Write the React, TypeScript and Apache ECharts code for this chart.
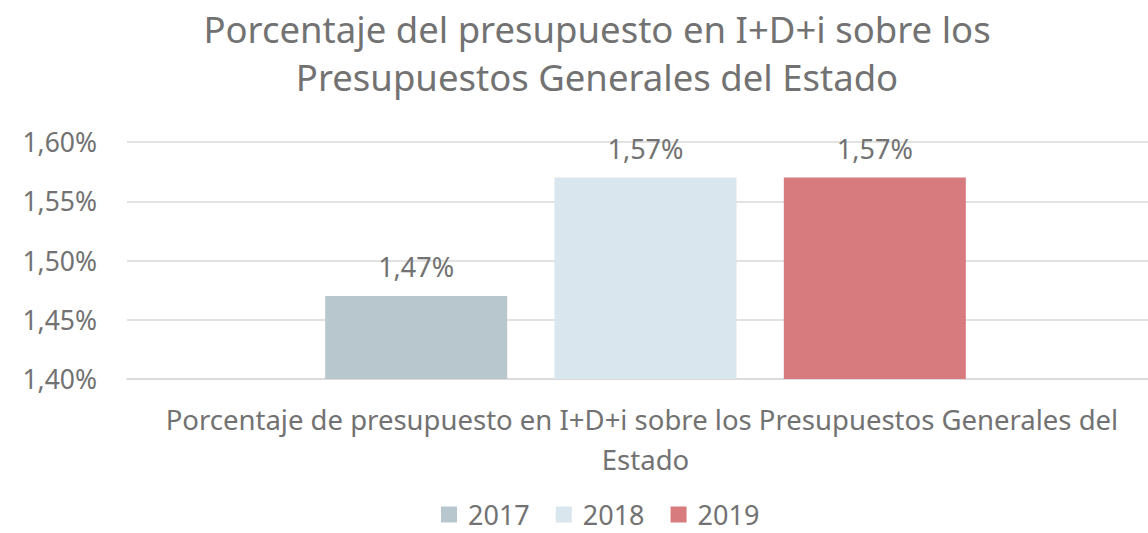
import React, { useEffect, useRef } from "react";
import * as echarts from "echarts";

const categories = ["Porcentaje de presupuesto en I+D+i sobre los Presupuestos Generales del Estado"];
const seriesNames = ["2017", "2018", "2019"];
const values2017 = [1.47];
const values2018 = [1.57];
const values2019 = [1.57];
const colors = ["#B7C7CD", "#D9E6EE", "#D87B7E"];
const yMin = 1.4;
const yMax = 1.6;
const yInterval = 0.05;

const fmt = (v: number) => v.toFixed(2).replace(".", ",") + "%";
const FONT = "'Noto Sans', sans-serif";
const TXT = "#727272";

export default function App() {
  const ref = useRef<HTMLDivElement>(null);
  useEffect(() => {
    document.body.style.margin = "0";
    const chart = echarts.init(ref.current!, null, { renderer: "svg" });
    const allValues = [values2017, values2018, values2019];
    chart.setOption({
      animation: false,
      textStyle: { fontFamily: FONT },
      title: {
        text: "Porcentaje del presupuesto en I+D+i sobre los\nPresupuestos Generales del Estado",
        left: 597,
        top: 5,
        padding: 0,
        textAlign: "center",
        textStyle: { fontFamily: FONT, fontSize: 36.5, fontWeight: "normal", color: TXT, lineHeight: 48 },
      },
      grid: { left: 127, width: 1037, top: 142, bottom: 154, containLabel: false, outerBoundsMode: "none" },
      legend: {
        bottom: 0,
        left: 436,
        itemWidth: 16,
        itemHeight: 16,
        itemGap: 26,
        icon: "rect",
        textStyle: { fontFamily: FONT, fontSize: 27, color: TXT, padding: [0, 0, 0, 6] },
        data: seriesNames,
      },
      xAxis: {
        type: "category",
        data: categories,
        axisLine: { lineStyle: { color: "#D9D9D9", width: 1.5 } },
        axisTick: { show: false },
        axisLabel: {
          fontFamily: FONT,
          fontSize: 27.5,
          color: TXT,
          width: 975,
          overflow: "break",
          lineHeight: 40,
          margin: 20,
        },
      },
      yAxis: {
        type: "value",
        min: yMin,
        max: yMax,
        interval: yInterval,
        axisLine: { show: false },
        axisTick: { show: false },
        splitLine: { lineStyle: { color: "#D9D9D9", width: 1.5 } },
        axisLabel: { fontFamily: FONT, fontSize: 26.5, color: TXT, margin: 30, formatter: (v: number) => fmt(v) },
      },
      series: seriesNames.map((name, i) => ({
        name,
        type: "bar",
        data: allValues[i],
        barWidth: 182,
        barGap: "26%",
        itemStyle: { color: colors[i] },
        label: {
          show: true,
          position: "top",
          distance: 16,
          fontFamily: FONT,
          fontSize: 27,
          color: TXT,
          formatter: (p: any) => fmt(p.value),
        },
      })),
    });
    return () => chart.dispose();
  }, []);
  return <div ref={ref} style={{ width: 1148, height: 533 }} />;
}
